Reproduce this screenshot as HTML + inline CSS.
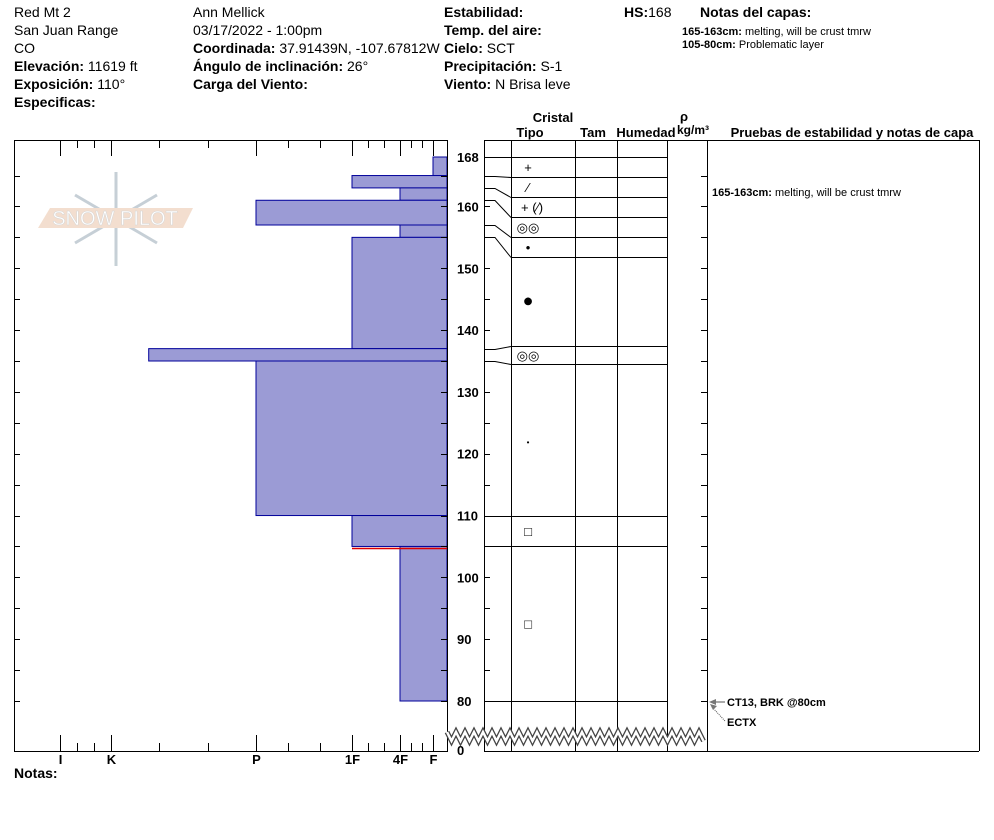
<!DOCTYPE html>
<html><head><meta charset="utf-8"><style>
html,body{margin:0;padding:0;background:#fff;}
svg{display:block;font-family:"Liberation Sans",Arial,sans-serif;}
.h{font-size:14px;fill:#000}
.b{font-weight:bold}
.s{font-size:11px}
</style></head><body>
<svg id="c" width="994" height="840" viewBox="0 0 994 840">
<g>
<text class="h" x="14" y="17">Red Mt 2</text>
<text class="h" x="14" y="35">San Juan Range</text>
<text class="h" x="14" y="53">CO</text>
<text class="h" x="14" y="71"><tspan class="b">Elevación:</tspan> 11619 ft</text>
<text class="h" x="14" y="89"><tspan class="b">Exposición:</tspan> 110°</text>
<text class="h b" x="14" y="107">Especificas:</text>
<text class="h" x="193" y="17">Ann Mellick</text>
<text class="h" x="193" y="35">03/17/2022 - 1:00pm</text>
<text class="h" x="193" y="53"><tspan class="b">Coordinada:</tspan> 37.91439N, -107.67812W</text>
<text class="h" x="193" y="71"><tspan class="b">Ángulo de inclinación:</tspan> 26°</text>
<text class="h b" x="193" y="89">Carga del Viento:</text>
<text class="h b" x="444" y="17">Estabilidad:</text>
<text class="h b" x="444" y="35">Temp. del aire:</text>
<text class="h" x="444" y="53"><tspan class="b">Cielo:</tspan> SCT</text>
<text class="h" x="444" y="71"><tspan class="b">Precipitación:</tspan> S-1</text>
<text class="h" x="444" y="89"><tspan class="b">Viento:</tspan>  N Brisa leve</text>
<text class="h" x="624" y="17"><tspan class="b">HS:</tspan>168</text>
<text class="h b" x="700" y="17">Notas del capas:</text>
<text class="s" x="682" y="35"><tspan class="b">165-163cm:</tspan>  melting, will be crust tmrw</text>
<text class="s" x="682" y="48"><tspan class="b">105-80cm:</tspan> Problematic layer</text>
<text class="h b" x="14" y="778">Notas:</text>
</g>
<g opacity="0.8">
<g stroke="#b8c4cc" stroke-width="3" fill="none">
<line x1="116" y1="172" x2="116" y2="266"/><line x1="75" y1="195" x2="157" y2="243"/><line x1="75" y1="243" x2="157" y2="195"/>
</g>
<polygon points="50,208 193,208 183,228 38,228" fill="#f1d7c4"/>
<text x="115" y="225" text-anchor="middle" font-size="20" fill="#fff" stroke="#ccc" stroke-width="0.5">SNOW PILOT</text>
</g>
<g id="left"></g>
<g id="table"></g>
<g font-size="13" font-weight="bold">
<text x="553" y="122" text-anchor="middle">Cristal</text>
<text x="530" y="137" text-anchor="middle">Tipo</text>
<text x="593" y="137" text-anchor="middle">Tam</text>
<text x="646" y="137" text-anchor="middle">Humedad</text>
<text x="684" y="121" text-anchor="middle">ρ</text>
<text x="693" y="134" text-anchor="middle" font-size="12">kg/m³</text>
<text x="852" y="137" text-anchor="middle">Pruebas de estabilidad y notas de capa</text>
</g>
<g>
<text class="s" x="712" y="196"><tspan class="b">165-163cm:</tspan> melting, will be crust tmrw</text>
<text class="s b" x="727" y="706">CT13, BRK @80cm</text>
<text class="s b" x="727" y="726">ECTX</text>
<line x1="710" y1="702" x2="725" y2="702" stroke="#555"/>
<polygon points="709,702 716,699 716,705" fill="#777"/>
<line x1="712" y1="707" x2="725" y2="721" stroke="#555" stroke-dasharray="1,1"/>
<polygon points="710,704 717,706 713,710" fill="#777"/>
</g>
</svg>
<script>
const layerTop=[168,165,163,161,157,155,137,135,110,105];
const layerBottom=[165,163,161,157,155,137,135,110,105,80];
const hardness=[1,3,2,4,2,3,4.74,4,3,2];
const hardLabels=["I","K","P","1F","4F","F"];
const hardLabelVals=[6,5,4,3,2,1];
const depthTicks=[168,160,150,140,130,120,110,100,90,80];
const crystal=["+","⁄","+ (⁄)","◎◎","•","●","◎◎","•","□","□"];
const NS="http://www.w3.org/2000/svg";
function y(h){return 701-(h-80)*(544/88);}
const hx=[[0,447],[1,433],[2,400],[3,352],[4,256],[5,111],[6,60]];
function x(v){for(let i=0;i<hx.length-1;i++){if(v<=hx[i+1][0]){const a=hx[i],b=hx[i+1];return a[1]+(v-a[0])/(b[0]-a[0])*(b[1]-a[1]);}}return 60;}
function el(p,t,a){const e=document.createElementNS(NS,t);for(const k in a)e.setAttribute(k,a[k]);p.appendChild(e);return e;}
const L=document.getElementById('left'),T=document.getElementById('table');
const f=el(L,'rect',{x:14.5,y:140.5,width:433,height:611,fill:'none',stroke:'#000'});


for(let i=0;i<layerTop.length;i++){
 const r=el(L,'rect',{x:x(hardness[i]),y:y(layerTop[i]),width:447-x(hardness[i]),height:y(layerBottom[i])-y(layerTop[i]),fill:'#9b9bd5',stroke:'#00009a','stroke-width':1});
 
 
}
el(L,'line',{x1:352,x2:447,y1:y(105)+2,y2:y(105)+2,stroke:'#d00','stroke-width':1.5});
for(let h=80;h<=165;h+=5){const yy=Math.round(y(h))+.5;el(L,'line',{x1:14,x2:20,y1:yy,y2:yy,stroke:'#000'});el(L,'line',{x1:441,x2:447,y1:yy,y2:yy,stroke:'#000'});el(L,'line',{x1:484,x2:490,y1:yy,y2:yy,stroke:'#000'});el(L,'line',{x1:701,x2:707,y1:yy,y2:yy,stroke:'#000'});}
for(let i=0;i<hardLabels.length;i++){const xx=Math.round(x(hardLabelVals[i]))+.5;
 el(L,'line',{x1:xx,x2:xx,y1:140,y2:156,stroke:'#000'});el(L,'line',{x1:xx,x2:xx,y1:735,y2:751,stroke:'#000'});
 const t=el(L,'text',{x:xx,y:764,'text-anchor':'middle','font-size':13,'font-weight':'bold'});t.textContent=hardLabels[i];
 
 
 for(let k=1;k<3;k++){const v=hardLabelVals[i]-k/3;if(v>=1){const xm=Math.round(x(v))+.5;el(L,'line',{x1:xm,x2:xm,y1:140,y2:148,stroke:'#000'});el(L,'line',{x1:xm,x2:xm,y1:743,y2:751,stroke:'#000'});}}
}
for(const d of depthTicks){const t=el(L,'text',{x:457,y:y(d)+5,'font-size':13,'font-weight':'bold'});t.textContent=d;
 
 }
const t0=el(L,'text',{x:457,y:755,'font-size':13,'font-weight':'bold'});t0.textContent='0';
const colX=[447,484,511,575,617,667,707];
for(const cx of colX)el(T,'line',{x1:cx+.5,x2:cx+.5,y1:140,y2:751,stroke:'#000'});
el(T,'line',{x1:484,x2:979,y1:140.5,y2:140.5,stroke:'#000'});
el(T,'line',{x1:484,x2:979,y1:751.5,y2:751.5,stroke:'#000'});
el(T,'line',{x1:979.5,x2:979.5,y1:140,y2:751,stroke:'#000'});
el(T,'line',{x1:14,x2:447,y1:751.5,y2:751.5,stroke:'#000'});
el(T,'line',{x1:484,x2:667,y1:157.5,y2:157.5,stroke:'#000'});
const disp=[157];let cur=157;
for(let i=0;i<layerTop.length;i++){const yb=y(layerBottom[i]);let nb=Math.max(yb,cur+20);if(i==5)nb=yb-3;if(i==6)nb=yb+3;disp.push(nb);cur=nb;}
for(let i=0;i<layerTop.length;i++){
 const yb=Math.round(disp[i+1])+.5;
 const ya=Math.round(y(layerBottom[i]))+.5;
 el(T,'line',{x1:511,x2:667,y1:yb,y2:yb,stroke:'#000'});
 el(T,'polyline',{points:`484,${ya} 495,${ya} 511,${yb}`,fill:'none',stroke:'#000'});
 const fs=(i==5)?18:(i==7?8:13);
 const g=el(T,'text',{x:i==2?521:528,y:(disp[i]+disp[i+1])/2+5,'text-anchor':i==2?'start':'middle','font-size':fs});
 g.textContent=crystal[i];
 
 
}
let z='';for(let xx=447;xx<=707;xx+=9){z+=`${xx},732 ${xx+4.5},741 `;}
const zz=el(T,'polyline',{points:z,fill:'none',stroke:'#444','stroke-width':5});


el(T,'polyline',{points:z,fill:'none',stroke:'#fff','stroke-width':2.5});
</script>
</body></html>
